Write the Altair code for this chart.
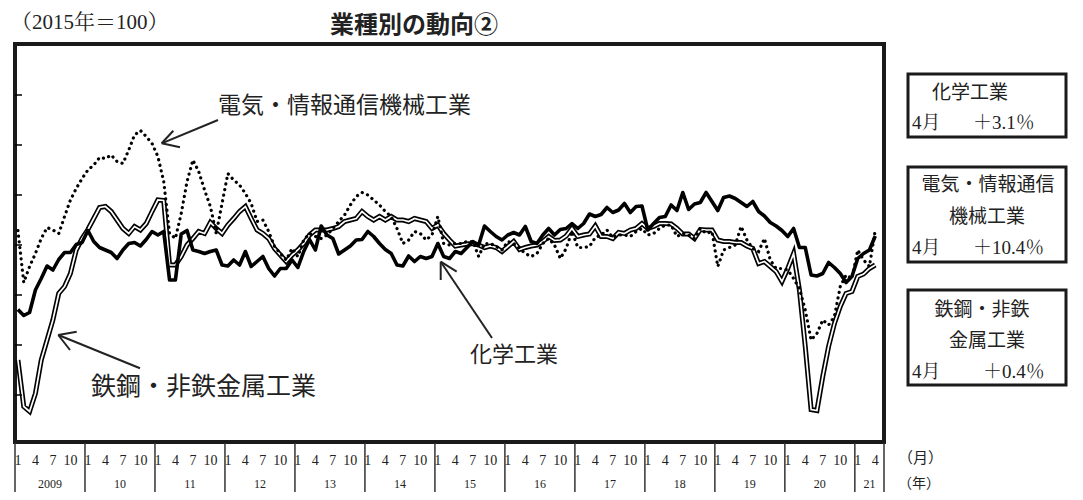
import altair as alt
import pandas as pd

# ---------------- data (2015=100), monthly 2009-01 .. 2021-04 ----------------
chemical = [87.1, 85.9, 86.5, 91, 93.3, 95.8, 95, 97.1, 98.5, 98.5, 100.1, 100.5,
            102.9, 100.7, 99.5, 99, 98.5, 97.3, 99, 100.3, 100.5, 99.8, 101.1, 102.7,
            102, 102.7, 93, 93, 102.2, 102.9, 99, 98.7, 98.3, 98.7, 99, 96,
            95.8, 97, 96, 98.7, 95.7, 96.7, 97.7, 95.3, 93.8, 95.3, 95.3, 97,
            95.5, 98.7, 101.1, 99, 103.8, 102, 101.3, 98.2, 99, 99.8, 101, 101.1,
            102.7, 101.7, 100.3, 99.1, 98.3, 96, 95.8, 97.8, 96.7, 97.7, 97.3, 97.7,
            100.3, 97.7, 97.3, 98.7, 98.3, 99.5, 100.7, 100, 103.8, 102.7, 101.7, 101,
            102, 102.5, 102, 103.7, 100.7, 100.3, 102, 103.3, 102, 103.1, 103.3, 104.3,
            103.3, 104.3, 106.2, 105.7, 106.1, 107.5, 106.5, 107, 108.3, 106.5, 107.7, 107.8,
            103, 104.3, 105.5, 105.7, 108, 106.9, 110.5, 107.1, 108.2, 108.5, 110.5, 108.7,
            106.9, 109.5, 109.8, 109.3, 108.5, 107.7, 108.7, 106.7, 105.8, 104.5, 103.8, 102.9,
            101.7, 103.3, 99.5, 99.5, 94, 93.8, 94.3, 96.5, 95.5, 94.3, 92.5, 93.7,
            97.3, 98.3, 99, 101.8]

electric = [102.9, 92.5, 95.7, 98.3, 101.3, 103.5, 103, 102.3, 105.7, 109, 111.3, 113.3,
            115, 116, 117.5, 117.3, 118, 116.7, 116.3, 119, 122, 122.9, 121.7, 120.3,
            117.7, 112.7, 102.3, 101.3, 106.3, 112.7, 117, 114.7, 111, 107.7, 102.3, 108.3,
            114.3, 113, 112, 110.3, 108.3, 104.7, 105, 102.7, 99.7, 98.3, 97, 99.3,
            97.7, 101, 102.3, 101.7, 101.3, 102, 103.3, 104.7, 106, 108, 109.7, 110.5,
            110, 109, 108, 106.7, 105.7, 103.3, 100.3, 101, 102.7, 102.3, 101, 102,
            105.7, 100.3, 100, 100.3, 100.3, 100.7, 100.7, 97.7, 100.3, 100.3, 99.7, 99,
            100.7, 100.3, 99.3, 98.3, 97.7, 98.3, 100.3, 101.3, 100, 97.3, 99.3, 102.7,
            99.5, 99.5, 99.7, 101.5, 102, 103, 101.5, 102, 102, 101.7, 102.7, 103.3,
            102, 102.3, 103.3, 104, 104, 101.7, 102.3, 102, 101.3, 103.3, 102.3, 102.7,
            95.7, 99, 99.5, 100, 103.7, 101, 99.3, 98.7, 101.3, 97, 95.3, 95.3,
            95, 93.3, 91.3, 87, 81, 82.3, 85, 84, 85.7, 91.7, 94, 93.3,
            99, 97, 95.7, 103]

steel = [77, 67.7, 66.7, 70.3, 77, 81, 85, 90.3, 91.7, 94.3, 99, 101.3,
         103.1, 105.3, 107.5, 107.7, 106.7, 105, 103.3, 102.3, 103.7, 103, 104.3, 106.7,
         109, 108.9, 96, 96, 97.7, 100, 101.3, 102.7, 102.3, 104.5, 103.3, 102.3,
         104, 105.3, 106.7, 107.7, 105.3, 103, 102.3, 101.3, 99.3, 98, 96.7, 98,
         99, 100.3, 102, 103, 103, 103, 103.3, 103.7, 104.7, 105, 105.3, 106.7,
         105.7, 105, 105.7, 105, 105.7, 105, 105, 104.7, 105.3, 105, 104.7, 103.3,
         104, 102.3, 101, 99.8, 100, 100.2, 100.3, 100, 99.5, 99.8, 99.5, 98.7,
         99.7, 100.7, 99.1, 99.5, 99.8, 100, 100.7, 101.7, 100.9, 101, 101.8, 103.3,
         101.7, 102, 102.2, 103.8, 101.7, 101.7, 101.3, 102.5, 102.3, 103, 103.3, 104.3,
         103.3, 103.7, 104.3, 104.3, 104.2, 103.3, 102.2, 102.2, 101.3, 103.1, 103, 103,
         101, 100.7, 100.7, 100.5, 100.5, 99.8, 99.3, 96.3, 96.7, 95.7, 94.7, 92.7,
         95.3, 98.3, 91, 79.7, 67.1, 66.9, 73.7, 79.7, 84.3, 87.7, 90.3, 90.7,
         93.7, 94.2, 95.3, 96]

years = list(range(2009, 2022))
year_labels = ["2009", "10", "11", "12", "13", "14", "15", "16", "17", "18", "19", "20", "21"]
month_marks = [1, 4, 7, 10]
last_month = 4
y_ticks = [70, 80, 90, 100, 110, 120, 130]

# ---------------- tables ----------------
n = len(chemical)
df = pd.DataFrame({
    "t": [i + 0.5 for i in range(n)],
    "chem": chemical,
    "elec": electric,
    "steel": steel,
})

mrows = []
for k, yr in enumerate(years):
    for m in month_marks:
        if yr == years[-1] and m > last_month:
            continue
        mrows.append({"t": k * 12 + (m - 1) + 0.5, "lab": str(m)})
mdf = pd.DataFrame(mrows)

yrows = []
for k, lab in enumerate(year_labels):
    start = k * 12
    end = min(start + 12, n + 1)
    yrows.append({"t": (start + end) / 2, "lab": lab})
ydf = pd.DataFrame(yrows)

bounds = [k * 12 for k in range(len(years))] + [n + 1]
bdf = pd.DataFrame({"t": bounds})
tdf = pd.DataFrame({"v": y_ticks})

XS = alt.Scale(domain=[0, n + 1], nice=False, zero=False)
YS = alt.Scale(domain=[60.6, 140.2], nice=False, zero=False)

SANS = "Noto Sans CJK JP"
SERIF = "Liberation Serif, Noto Serif CJK JP, Noto Sans CJK JP"

def line(field, **kw):
    return alt.Chart(df).mark_line(**kw).encode(
        x=alt.X("t:Q", scale=XS, axis=None),
        y=alt.Y(f"{field}:Q", scale=YS, axis=None),
    )

steel_outer = line("steel", color="black", strokeWidth=5)
steel_inner = line("steel", color="white", strokeWidth=1.7)
elec_line = line("elec", color="black", strokeWidth=3.2, strokeDash=[0.1, 5.6], strokeCap="round")
chem_line = line("chem", color="black", strokeWidth=3.6, strokeJoin="round")

ticks = alt.Chart(tdf).mark_rule(color="black", strokeWidth=1.5).encode(
    y=alt.Y("v:Q", scale=YS, axis=None), x=alt.value(0), x2=alt.value(7))

sep = alt.Chart(bdf).mark_rule(color="#333333", strokeWidth=1.5).encode(
    x=alt.X("t:Q", scale=XS, axis=None), y=alt.value(399), y2=alt.value(460))

mlab = alt.Chart(mdf).mark_text(font=SERIF, fontSize=14, baseline="middle", color="#222222").encode(
    x=alt.X("t:Q", scale=XS, axis=None), y=alt.value(417), text="lab:N")
ylab = alt.Chart(ydf).mark_text(font=SERIF, fontSize=12, baseline="middle", color="#222222").encode(
    x=alt.X("t:Q", scale=XS, axis=None), y=alt.value(440), text="lab:N")

one = pd.DataFrame({"a": [0]})

def txt(s, x, y, size, align="left", font=SANS, weight="normal"):
    return alt.Chart(one).mark_text(text=s, align=align, baseline="middle", fontSize=size,
                                    font=font, fontWeight=weight, color="#222222").encode(
        x=alt.value(x), y=alt.value(y))

def seg(x1, y1, x2, y2, w=2):
    return alt.Chart(one).mark_rule(color="#222222", strokeWidth=w).encode(
        x=alt.value(x1), y=alt.value(y1), x2=alt.value(x2), y2=alt.value(y2))

def box(x1, y1, x2, y2):
    return alt.Chart(one).mark_rect(fillOpacity=0, stroke="#1a1a1a", strokeWidth=3).encode(
        x=alt.value(x1), y=alt.value(y1), x2=alt.value(x2), y2=alt.value(y2))

ann = [
    txt("業種別の動向②", 315, -18, 24, weight="bold"),
    txt("（2015年＝100）", -4, -21, 21, font=SERIF),
    txt("電気・情報通信機械工業", 203, 62, 23),
    txt("鉄鋼・非鉄金属工業", 76, 343, 25),
    txt("化学工業", 455, 311, 22),
    seg(203, 76, 146.7, 99.3), seg(146.7, 99.3, 158.3, 86.7), seg(146.7, 99.3, 165, 103.3),
    seg(125, 324.3, 43.3, 291), seg(43.3, 291, 61.7, 287.7), seg(43.3, 291, 55, 306),
    seg(477, 294, 425.7, 217.7), seg(425.7, 217.7, 425.7, 236), seg(425.7, 217.7, 441.7, 227.7),
    txt("（月）", 883, 414, 15),
    txt("（年）", 883, 440, 14),
    box(893, 30, 1051, 93),
    box(893, 123, 1051, 218),
    box(893, 246, 1051, 341),
    txt("化学工業", 955, 49, 19, align="center"),
    txt("4月", 897, 79, 19, font=SERIF),
    txt("＋3.1％", 958, 79, 19, font=SERIF),
    txt("電気・情報通信", 973, 141, 19, align="center"),
    txt("機械工業", 972, 173, 19, align="center"),
    txt("4月", 897, 204, 19, font=SERIF),
    txt("＋10.4％", 958, 204, 19, font=SERIF),
    txt("鉄鋼・非鉄", 967, 266, 19, align="center"),
    txt("金属工業", 972, 297, 19, align="center"),
    txt("4月", 897, 328, 19, font=SERIF),
    txt("＋0.4％", 968, 328, 19, font=SERIF),
]

chart = alt.layer(
    steel_outer, steel_inner, elec_line, chem_line, ticks, sep, mlab, ylab, *ann
).properties(
    width=869, height=398,
    autosize=alt.AutoSizeParams(type="none"),
    padding={"left": 7, "top": 36, "right": 190, "bottom": 50},
).configure_view(stroke="#1a1a1a", strokeWidth=4)

chart.save("out.html", embed_options={"renderer": "svg", "actions": False})
